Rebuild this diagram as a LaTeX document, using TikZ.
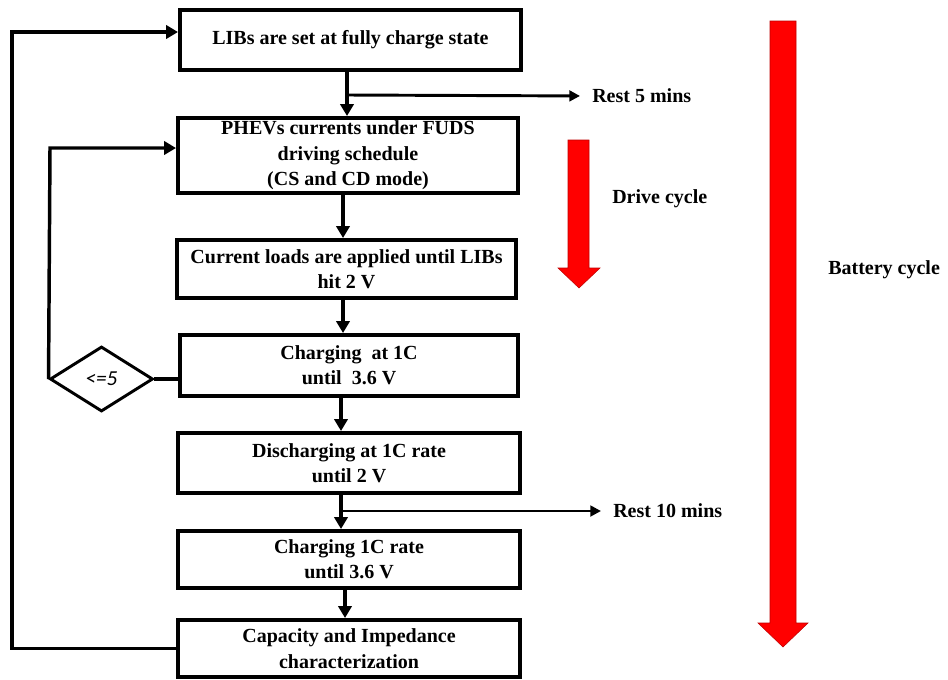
\documentclass[tikz,border=0pt]{standalone}
\usepackage{fontspec}
\setmainfont{Liberation Serif}
\newfontfamily\boxserif{Liberation Serif}
\newfontfamily\smallsans{Carlito}
\usetikzlibrary{arrows.meta,shapes.geometric}
\begin{document}
\begin{tikzpicture}[x=0.75pt,y=-0.75pt,
  box/.style={draw=black,line width=3pt,fill=white,align=center,inner sep=0pt,
    font=\boxserif\fontsize{15}{19}\selectfont\bfseries},
  arr/.style={line width=2.6pt,-{Triangle[length=9pt,width=10pt]}},
  thinarr/.style={line width=2.2pt,-{Triangle[length=8pt,width=8pt]},shorten >=9pt},
  plain/.style={line width=2.6pt},
  lbl/.style={anchor=west,inner sep=0pt,font=\boxserif\fontsize{15}{19}\selectfont\bfseries},
  redarrow/.style={fill=red,draw=red!75!black,line width=0.4pt}]
\useasboundingbox (0,0) rectangle (948,679);

% boxes
\node[box,minimum width=341*0.75pt,minimum height=60*0.75pt] (b1) at (350.5,40) {LIBs are set at fully charge state};
\node[box,minimum width=340*0.75pt,minimum height=75*0.75pt] (b2) at (348,155.5) {PHEVs currents under FUDS\\driving schedule\\(CS and CD mode)};
\node[box,minimum width=339*0.75pt,minimum height=58*0.75pt] (b3) at (346.5,269) {Current loads are applied until LIBs\\hit 2 V};
\node[box,minimum width=338*0.75pt,minimum height=61*0.75pt] (b4) at (349,365.5) {Charging\ \ at 1C\\until\ \ 3.6 V};
\node[box,minimum width=342*0.75pt,minimum height=60*0.75pt] (b5) at (349,463) {Discharging at 1C rate\\until 2 V};
\node[box,minimum width=342*0.75pt,minimum height=57*0.75pt] (b6) at (349,559.5) {Charging 1C rate\\until 3.6 V};
\node[box,minimum width=342*0.75pt,minimum height=57*0.75pt] (b7) at (349,648.5) {Capacity and Impedance\\characterization};

% diamond
\node[draw=black,line width=2.2pt,diamond,aspect=1.58,inner sep=0pt,
  minimum width=103*0.75pt,minimum height=65*0.75pt,
  font=\smallsans\itshape\fontsize{16}{18}\selectfont] (d) at (101.5,379) {<=5};

% helper coordinates
\coordinate (x347) at (347,0);
\coordinate (x343) at (343,0);
\coordinate (x341) at (341,0);
\coordinate (x345) at (345,0);
\coordinate (j1) at (347,95);
\coordinate (j2) at (341,511);
\coordinate (L1) at (12,32);
\coordinate (L2) at (50,148);

% rest labels
\node[lbl] (r5) at (592,96) {Rest 5 mins};
\node[lbl] (r10) at (613,511) {Rest 10 mins};

% vertical connectors
\draw[arr] (b1.south -| x347) -- (b2.north -| x347);
\draw[arr] (b2.south -| x343) -- (b3.north -| x343);
\draw[arr] (b3.south -| x343) -- (b4.north -| x343);
\draw[arr] (b4.south -| x341) -- (b5.north -| x341);
\draw[arr] (b5.south -| x341) -- (b6.north -| x341);
\draw[arr] (b6.south -| x345) -- (b7.north -| x345);

% rest branches
\draw[thinarr] (j1) -- (r5.west);
\draw[thinarr] (j2) -- (r10.west);

% loops
\draw[plain] (b4.west |- d.east) -- (d.east);
\draw[arr] (d.west) -- (L2) -- (L2 -| b2.west);
\draw[arr] (b7.west) -| (L1) -- (L1 -| b1.west);

% red arrows
\fill[redarrow] (568,140) -- (589,140) -- (589,268) -- (600,268) -- (579,288) -- (558,268) -- (568,268) -- cycle;
\fill[redarrow] (770,21) -- (796,21) -- (796,623) -- (808,623) -- (783,647) -- (758,623) -- (770,623) -- cycle;
\node[lbl] (dc) at (612,199) {Drive cycle};
\node[lbl] (bc) at (828,270) {Battery cycle};
\end{tikzpicture}
\end{document}
